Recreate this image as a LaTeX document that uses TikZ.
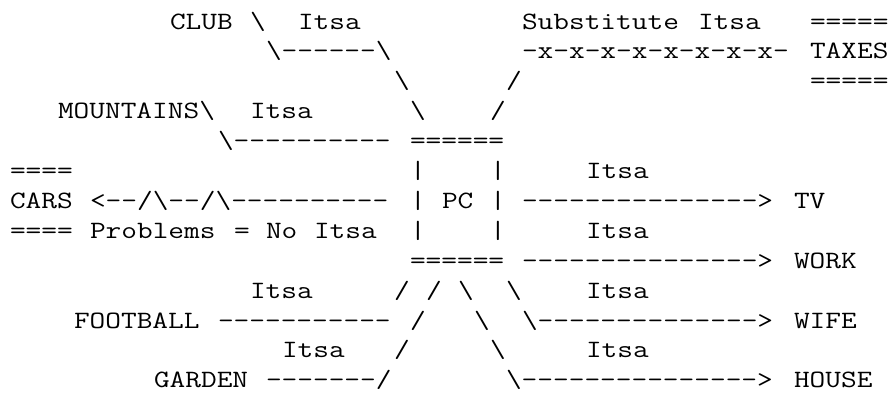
\documentclass[tikz,border=0pt]{standalone}
\usepackage{fontspec}
\newcommand\asciiseg[4]{\node[asc] (#1) at ({10+16*#2},{29+29.9*#3}) {\scalebox{1.2245}[1]{#4}};}
\newcommand\bs{\textbackslash}
\begin{document}
\begin{tikzpicture}[x=0.75pt,y=-0.75pt,
  asc/.style={anchor=base west, inner sep=0pt, outer sep=0pt,
              font=\ttfamily\fontsize{18.67pt}{22pt}\selectfont, text=black}]
\useasboundingbox (0,0) rectangle (891,394);
% row 0
\asciiseg{club}{10}{0}{CLUB}
\asciiseg{clubbs}{15}{0}{\bs}
\asciiseg{itsaA}{18}{0}{Itsa}
\asciiseg{subst}{32}{0}{Substitute}
\asciiseg{itsaB}{43}{0}{Itsa}
\asciiseg{taxtop}{50}{0}{=====}
% row 1
\asciiseg{clubline}{16}{1}{\bs------\bs}
\asciiseg{xline}{32}{1}{-x-x-x-x-x-x-x-x-}
\asciiseg{taxes}{50}{1}{TAXES}
% row 2
\asciiseg{clubdiag}{24}{2}{\bs}
\asciiseg{subdiagA}{31}{2}{/}
\asciiseg{taxbot}{50}{2}{=====}
% row 3
\asciiseg{mount}{3}{3}{MOUNTAINS\bs}
\asciiseg{itsaC}{15}{3}{Itsa}
\asciiseg{clubdiagB}{25}{3}{\bs}
\asciiseg{subdiagB}{30}{3}{/}
% row 4
\asciiseg{mountline}{13}{4}{\bs----------}
\asciiseg{pctop}{25}{4}{======}
% row 5
\asciiseg{carstop}{0}{5}{====}
\asciiseg{pclA}{25}{5}{|}
\asciiseg{pcrA}{30}{5}{|}
\asciiseg{itsaTV}{36}{5}{Itsa}
% row 6
\asciiseg{cars}{0}{6}{CARS}
\asciiseg{carsline}{5}{6}{<--/\bs--/\bs----------}
\asciiseg{pclB}{25}{6}{|}
\asciiseg{pc}{27}{6}{PC}
\asciiseg{pcrB}{30}{6}{|}
\asciiseg{tvline}{32}{6}{--------------->}
\asciiseg{tv}{49}{6}{TV}
% row 7
\asciiseg{carsbot}{0}{7}{====}
\asciiseg{problems}{5}{7}{Problems}
\asciiseg{equals}{14}{7}{=}
\asciiseg{no}{16}{7}{No}
\asciiseg{itsaD}{19}{7}{Itsa}
\asciiseg{pclC}{25}{7}{|}
\asciiseg{pcrC}{30}{7}{|}
\asciiseg{itsaWORK}{36}{7}{Itsa}
% row 8
\asciiseg{pcbot}{25}{8}{======}
\asciiseg{workline}{32}{8}{--------------->}
\asciiseg{work}{49}{8}{WORK}
% row 9
\asciiseg{itsaFB}{15}{9}{Itsa}
\asciiseg{fbdiagA}{24}{9}{/}
\asciiseg{gdiagA}{26}{9}{/}
\asciiseg{hdiagA}{28}{9}{\bs}
\asciiseg{wdiagA}{31}{9}{\bs}
\asciiseg{itsaWIFE}{36}{9}{Itsa}
% row 10
\asciiseg{football}{4}{10}{FOOTBALL}
\asciiseg{fbline}{13}{10}{-----------}
\asciiseg{gdiagB}{25}{10}{/}
\asciiseg{hdiagB}{29}{10}{\bs}
\asciiseg{wifeline}{32}{10}{\bs-------------->}
\asciiseg{wife}{49}{10}{WIFE}
% row 11
\asciiseg{itsaG}{17}{11}{Itsa}
\asciiseg{gdiagC}{24}{11}{/}
\asciiseg{hdiagC}{30}{11}{\bs}
\asciiseg{itsaHOUSE}{36}{11}{Itsa}
% row 12
\asciiseg{garden}{9}{12}{GARDEN}
\asciiseg{gline}{16}{12}{-------/}
\asciiseg{houseline}{31}{12}{\bs--------------->}
\asciiseg{house}{49}{12}{HOUSE}
\end{tikzpicture}
\end{document}
